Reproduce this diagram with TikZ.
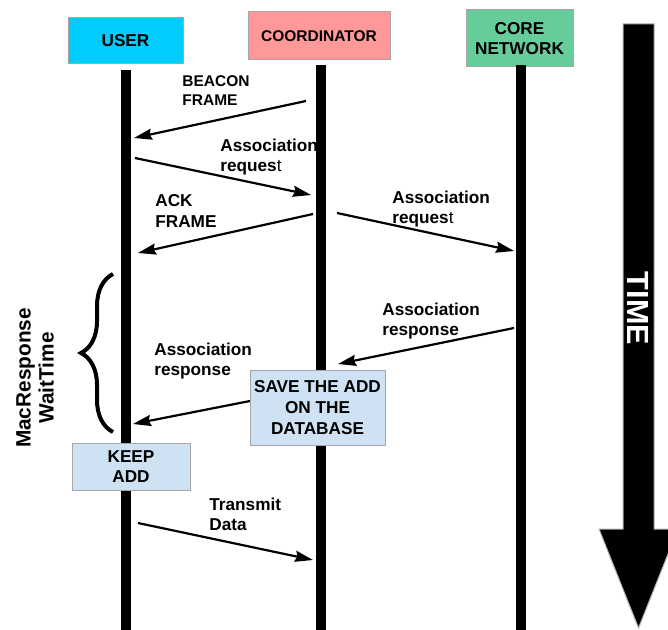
\documentclass[tikz,border=0pt]{standalone}
\usepackage{fontspec}
\setmainfont{Liberation Sans}
\usepackage{tikz}
\usetikzlibrary{arrows.meta,decorations.pathreplacing}

\definecolor{usercol}{RGB}{0,204,255}
\definecolor{coordcol}{RGB}{255,153,153}
\definecolor{corecol}{RGB}{102,204,153}
\definecolor{notecol}{RGB}{207,226,243}

\begin{document}
\begin{tikzpicture}[x=0.5pt,y=-0.5pt,->,>={Stealth[length=9pt,width=5.5pt,inset=1pt]},
        font=\bfseries\fontsize{8.6}{10.2}\selectfont,
        entity/.style={draw=gray!70,line width=0.5pt,align=center,inner sep=0pt},
        lbl/.style={anchor=north west,align=left,inner sep=0pt},
        msg/.style={line width=1.1pt},
        lifeline/.style={-,line width=5pt}]

  \clip (0,0) rectangle (668,630);

  % heads
  \node[entity,fill=usercol,minimum width=57.5pt,minimum height=23pt] (User) at (125.5,41) {USER};
  \node[entity,fill=coordcol,minimum width=71pt,minimum height=24pt,
        font=\bfseries\fontsize{7.75}{9.5}\selectfont] (Coordinator) at (319,36) {COORDINATOR};
  \node[entity,fill=corecol,minimum width=53.5pt,minimum height=28.5pt] (Core) at (519.5,38.5) {CORE\\NETWORK};

  % labels
  \node[lbl,font=\bfseries\fontsize{7.75}{9.5}\selectfont] (Beacon Lbl) at (182,75.7) {BEACON\\FRAME};
  \node[lbl] (Request Lbl) at (220,138.5) {Association\\reques\textmd{t}};
  \node[lbl] (Ack Lbl) at (155,194.5) {ACK\\FRAME};
  \node[lbl] (Forward Lbl) at (392,190.5) {Association\\reques\textmd{t}};
  \node[lbl] (Response Lbl) at (382,302.5) {Association\\response};
  \node[lbl] (Answer Lbl) at (154,342.5) {Association\\response};
  \node[lbl] (Data Lbl) at (209,497.5) {Transmit\\Data};

  % lifelines
  \coordinate (User End) at (126,630);
  \coordinate (Coordinator End) at (321,630);
  \coordinate (Core End) at (521,630);
  \draw[lifeline,shorten <=3pt] (User.south -| User End) -- (User End);
  \draw[lifeline,shorten <=2.5pt] (Coordinator.south -| Coordinator End) -- (Coordinator End);
  \draw[lifeline,shorten <=-1pt] (Core.south -| Core End) -- (Core End);

  % messages
  \coordinate (Beacon From) at (306,101);   \coordinate (Beacon To) at (134,138);
  \coordinate (Request From) at (135,158);  \coordinate (Request To) at (311,195);
  \coordinate (Ack From) at (313,214);      \coordinate (Ack To) at (138,253);
  \coordinate (Forward From) at (337,213);  \coordinate (Forward To) at (514,251);
  \coordinate (Response From) at (514,328); \coordinate (Response To) at (338,364);
  \coordinate (Answer From) at (250,401);   \coordinate (Answer To) at (133,424);
  \coordinate (Data From) at (138,523);     \coordinate (Data To) at (313,560);

  \path[msg] (Beacon From) edge (Beacon To)
        (Request From) edge (Request To)
        (Ack From) edge (Ack To)
        (Forward From) edge (Forward To)
        (Response From) edge (Response To)
        (Answer From) edge (Answer To)
        (Data From) edge (Data To);

  % notes
  \node[entity,fill=notecol,minimum width=67.5pt,minimum height=37.5pt,
        font=\bfseries\fontsize{8.6}{10.5}\selectfont] (Save) at (317.5,407.5) {SAVE THE ADD\\ON THE\\DATABASE};
  \node[entity,fill=notecol,minimum width=59pt,minimum height=23.5pt] (Keep) at (131,466.5) {KEEP\\ADD};

  % wait time
  \coordinate (Brace Top) at (113,274);
  \coordinate (Brace Bot) at (113,432);
  \draw[-,line width=2pt,decorate,decoration={brace,amplitude=16pt}] (Brace Bot) -- (Brace Top);
  \node[rotate=90,align=center,font=\bfseries\fontsize{10.4}{11.5}\selectfont] (Wait) at (35,378) {MacResponse\\WaitTime};

  % time axis
  \filldraw[-,draw=gray!60,line width=0.5pt,fill=black] (623,24) -- (654,24) -- (654,529) -- (678,529)
        -- (638.5,628) -- (599,529) -- (623,529) -- cycle;
  \node[rotate=-90,text=white,font=\bfseries\fontsize{15.3}{18}\selectfont] (Time) at (638.5,308.5) {TIME};
\end{tikzpicture}
\end{document}
